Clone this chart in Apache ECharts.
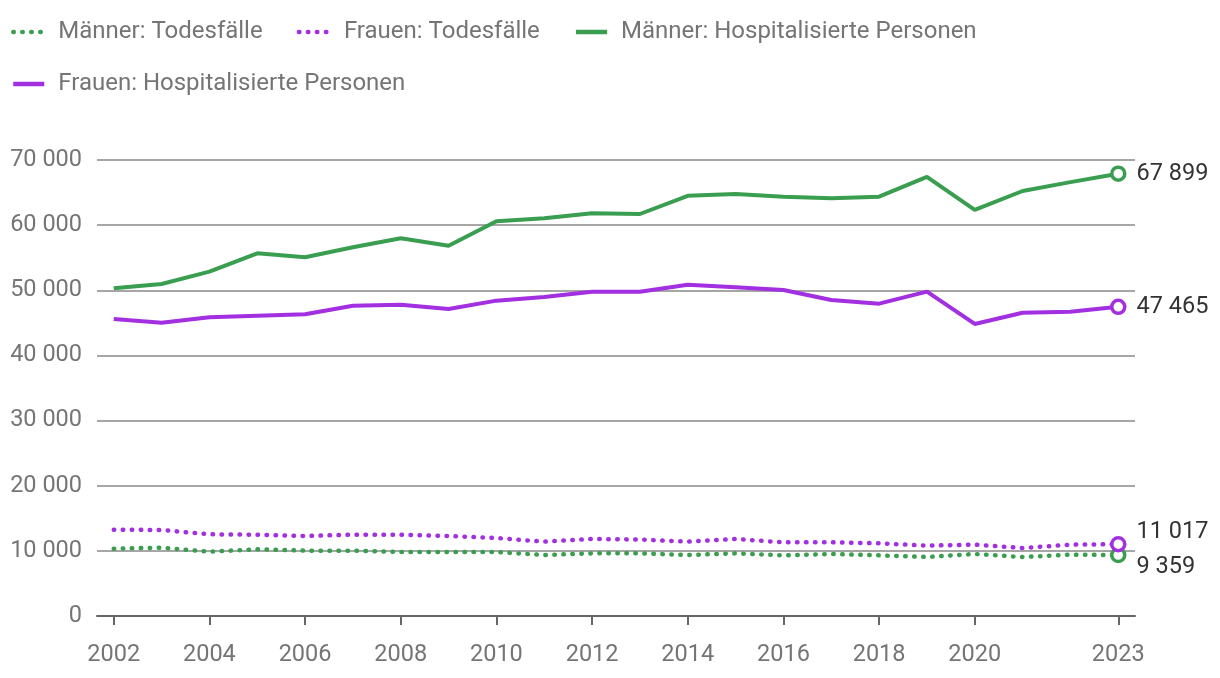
<!DOCTYPE html>
<html>
<head>
<meta charset="utf-8">
<script src="https://cdn.jsdelivr.net/npm/echarts@6/dist/echarts.min.js"></script>
<style>html,body{margin:0;padding:0;background:#fff}#c{width:1220px;height:678px}</style>
</head>
<body>
<div id="c"></div>
<script>
var years = [2002,2003,2004,2005,2006,2007,2008,2009,2010,2011,2012,2013,2014,2015,2016,2017,2018,2019,2020,2021,2022,2023];
var menDeaths = [10330,10490,9870,10240,10030,10030,9820,9820,9820,9360,9620,9620,9360,9620,9310,9520,9310,9060,9520,9060,9410,9359];
var womenDeaths = [13250,13200,12540,12480,12280,12480,12480,12280,11970,11410,11820,11740,11410,11820,11310,11310,11160,10800,10950,10440,10950,11017];
var menHosp = [50300,50970,52860,55680,55060,56600,57980,56850,60590,61050,61820,61710,64500,64780,64370,64120,64370,67420,62330,65240,66600,67899];
var womenHosp = [45590,45030,45850,46100,46310,47640,47790,47130,48410,48970,49790,49790,50860,50460,50050,48510,47950,49790,44830,46560,46720,47465];
var xTicks = [2002,2004,2006,2008,2010,2012,2014,2016,2018,2020,2023];
var names = ['Männer: Todesfälle','Frauen: Todesfälle','Männer: Hospitalisierte Personen','Frauen: Hospitalisierte Personen'];

var GREEN = '#3a9e50';
var PURPLE = '#a22fe0';
var FS = 23.5;

function fmt(v){ return String(v).replace(/\B(?=(\d{3})+(?!\d))/g, ' '); }

function buildData(vals, offset, color){
  return vals.map(function(v,i){
    var pt = [years[i], v];
    if (i === vals.length-1) {
      return {
        value: pt,
        symbol: 'circle',
        symbolSize: 13,
        itemStyle: { color: '#fff', borderColor: color, borderWidth: 3.5 },
        label: {
          show: true, position: 'right', distance: 10,
          offset: offset,
          formatter: function(p){ return fmt(p.value[1]); },
          color: '#333', fontSize: FS, fontFamily: 'Roboto'
        }
      };
    }
    return pt;
  });
}

function mkSeries(name, vals, color, dotted, offset){
  return {
    name: name,
    type: 'line',
    data: buildData(vals, offset, color),
    symbol: 'none',
    showSymbol: true,
    itemStyle: { color: color },
    lineStyle: dotted ? { color: color, width: 4.5, type: [0.5, 8.5], cap: 'round' } : { color: color, width: 4 },
    emphasis: { disabled: true },
    animation: false,
    z: dotted ? 3 : 4
  };
}

var chart = echarts.init(document.getElementById('c'));
chart.setOption({
  animation: false,
  legend: {
    left: 6, top: 15,
    itemWidth: 31, itemHeight: 14, itemGap: 28,
    itemStyle: { opacity: 0 },
    lineStyle: { width: 4.5 },
    formatter: function(n){ return n + '\u00a0'; },
    textStyle: { color: '#757575', fontSize: 24, fontFamily: 'Roboto', padding: [0,0,0,9] },
    data: names
  },
  grid: { left: 97, right: 85, top: 160, bottom: 62 },
  xAxis: {
    type: 'value',
    min: 2001.65, max: 2023.35,
    splitLine: { show: false },
    axisLine: { show: true, lineStyle: { color: '#666', width: 2 } },
    axisTick: { show: true, length: 9, lineStyle: { color: '#666', width: 2 }, customValues: xTicks },
    axisLabel: { color: '#757575', fontSize: FS, fontFamily: 'Roboto', margin: 27, customValues: xTicks, formatter: function(v){ return String(v); } }
  },
  yAxis: {
    type: 'value',
    min: 0, max: 70000, interval: 10000,
    axisLine: { show: false },
    axisTick: { show: false },
    splitLine: { lineStyle: { color: '#888', width: 1.5 } },
    axisLabel: { color: '#757575', fontSize: FS, fontFamily: 'Roboto', margin: 15, formatter: function(v){ return fmt(v); } }
  },
  series: [
    mkSeries(names[0], menDeaths, GREEN, true, [0, 12]),
    mkSeries(names[1], womenDeaths, PURPLE, true, [0, -12]),
    mkSeries(names[2], menHosp, GREEN, false, [0, 0]),
    mkSeries(names[3], womenHosp, PURPLE, false, [0, 0])
  ]
});
</script>
</body>
</html>
